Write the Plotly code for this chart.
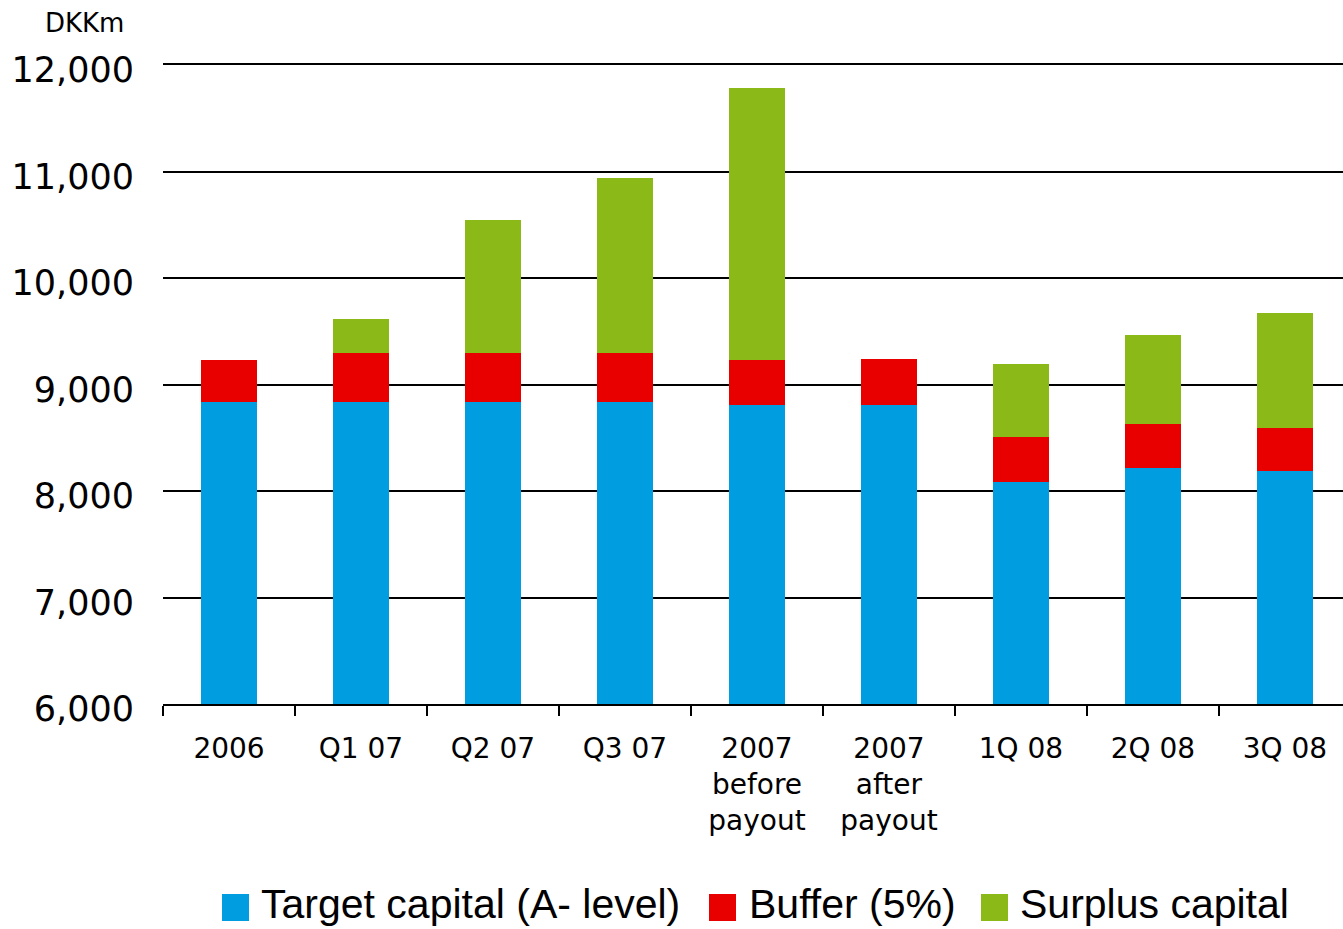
import plotly.graph_objects as go

# ---- data ----
categories = ["2006", "Q1 07", "Q2 07", "Q3 07", "2007<br>before<br>payout",
              "2007<br>after<br>payout", "1Q 08", "2Q 08", "3Q 08"]
target_capital = [8838, 8838, 8838, 8838, 8808, 8808, 8085, 8219, 8188]
buffer_5pct = [392, 458, 458, 458, 422, 431, 422, 410, 406]
surplus_capital = [0, 319, 1249, 1643, 2554, 0, 685, 836, 1077]
series_names = ["Target capital (A- level)", "Buffer (5%)", "Surplus capital"]
colors = ["#009EE0", "#E80000", "#8BBA18"]
y_ticks = [6000, 7000, 8000, 9000, 10000, 11000, 12000]

W, H = 1343, 929
ML, MR, MT, MB = 163, 0, 65, 225
PW, PH = W - ML - MR, H - MT - MB


def px_x(px):
    return (px - ML) / PW


def px_y(py):
    return (H - MB - py) / PH


fig = go.Figure()
for name, vals, col in zip(series_names, [target_capital, buffer_5pct, surplus_capital], colors):
    fig.add_trace(go.Bar(
        x=categories, y=vals, name=name, marker=dict(color=col, line=dict(width=0)),
        width=0.424, showlegend=False,
    ))

fig.update_layout(
    width=W, height=H,
    margin=dict(l=ML, r=MR, t=MT, b=MB),
    barmode="stack",
    plot_bgcolor="white", paper_bgcolor="white",
    font=dict(family="DejaVu Sans", color="black"),
    showlegend=False,
)
fig.update_xaxes(
    type="category", range=[-0.5, 8.44],
    showline=True, linecolor="black", linewidth=2, mirror=True,
    ticks="outside", tickson="boundaries", ticklen=10, tickwidth=2, tickcolor="black",
    tickfont=dict(family="DejaVu Sans", size=28, color="black"),
    ticklabelstandoff=18,
    showgrid=False, zeroline=False,
)
fig.update_yaxes(
    range=[6000, 12000], tickvals=y_ticks, tickformat=",d",
    showgrid=True, gridcolor="black", gridwidth=2,
    showline=False, zeroline=False, ticks="",
    tickfont=dict(family="DejaVu Sans", size=35, color="black"),
    ticklabelstandoff=28, ticklabelshift=5,
)

# y-axis unit label
fig.add_annotation(text="DKKm", xref="paper", yref="paper", x=px_x(84), y=px_y(23),
                   xanchor="center", yanchor="middle", showarrow=False,
                   font=dict(family="DejaVu Sans", size=26, color="black"))

# custom legend (large square swatches)
legend_items = [(222, 261), (709, 749), (981, 1020)]
for (sq_x, tx_x), name, col in zip(legend_items, series_names, colors):
    fig.add_shape(type="rect", xref="paper", yref="paper",
                  x0=px_x(sq_x), x1=px_x(sq_x + 27), y0=px_y(921), y1=px_y(894),
                  fillcolor=col, line=dict(width=0))
    fig.add_annotation(text=name, xref="paper", yref="paper", x=px_x(tx_x - 2), y=px_y(904),
                       xanchor="left", yanchor="middle", showarrow=False,
                       font=dict(family="Liberation Sans", size=41, color="black"))

fig.write_html("out.html", config={"displayModeBar": False},
               post_script="document.body.style.margin='0';")
